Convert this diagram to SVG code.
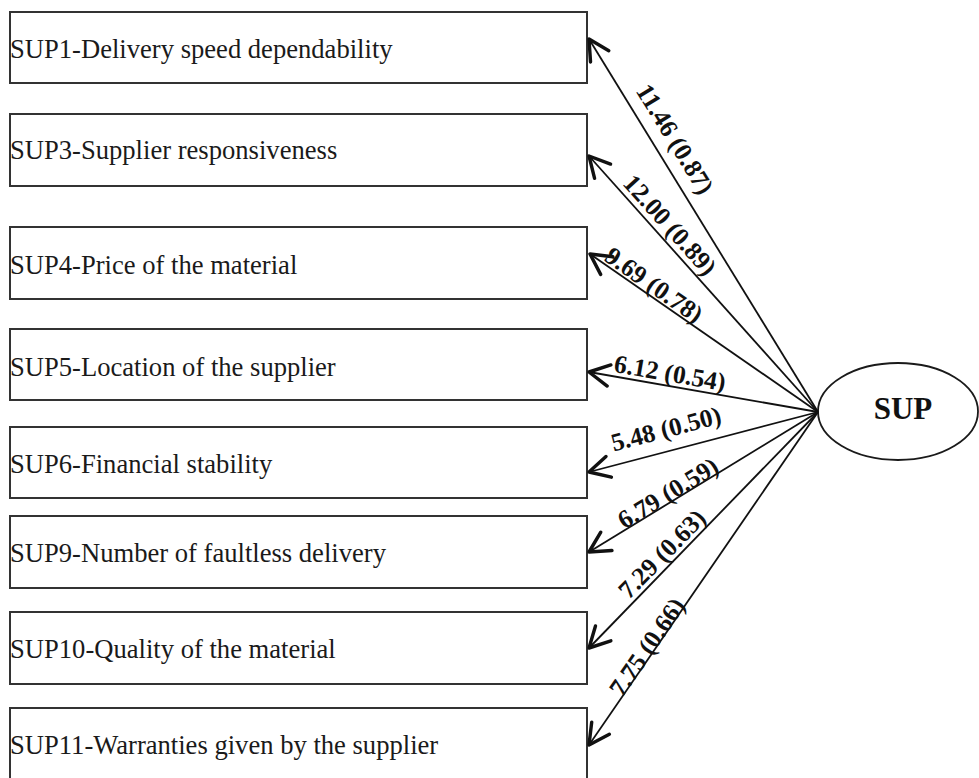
<svg xmlns="http://www.w3.org/2000/svg" width="979" height="778" viewBox="0 0 979 778">
  <style>
    .box rect { fill: #ffffff; stroke: #333333; stroke-width: 2; }
    .box text { font-family: "Liberation Serif", "Times New Roman", serif; font-size: 26.6px; fill: #1a1a1a; }
    .latent ellipse { fill: #ffffff; stroke: #1a1a1a; stroke-width: 1.8; }
    .latent text { font-family: "Liberation Serif", "Times New Roman", serif; font-size: 31px; font-weight: bold; fill: #111111; text-anchor: middle; }
    .edges line { stroke: #111111; stroke-width: 1.8; marker-end: url(#openArrow); }
    .edges text { font-family: "Liberation Serif", "Times New Roman", serif; font-size: 25.5px; font-weight: bold; fill: #111111; text-anchor: middle; dominant-baseline: central; }
  </style>
  <defs>
    <marker id="openArrow" markerUnits="userSpaceOnUse" markerWidth="30" markerHeight="30" viewBox="-24 -14 28 28" refX="0" refY="0" orient="auto">
      <path d="M-19,-10 L0,0 L-19,10" fill="none" stroke="#111111" stroke-width="3.2" stroke-linecap="round" stroke-linejoin="round"/>
    </marker>
  </defs>

  <rect width="979" height="778" fill="#ffffff"/>

  <!-- indicator boxes -->
  <g id="sup1" class="box"><rect x="10" y="12" width="577" height="71"/><text x="10" y="58">SUP1-Delivery speed dependability</text></g>
  <g id="sup3" class="box"><rect x="10" y="114" width="577" height="72"/><text x="10" y="159">SUP3-Supplier responsiveness</text></g>
  <g id="sup4" class="box"><rect x="10" y="227" width="577" height="72"/><text x="10" y="274">SUP4-Price of the material</text></g>
  <g id="sup5" class="box"><rect x="10" y="329" width="577" height="71"/><text x="10" y="376">SUP5-Location of the supplier</text></g>
  <g id="sup6" class="box"><rect x="10" y="427" width="577" height="71"/><text x="10" y="473">SUP6-Financial stability</text></g>
  <g id="sup9" class="box"><rect x="10" y="516" width="577" height="72"/><text x="10" y="562">SUP9-Number of faultless delivery</text></g>
  <g id="sup10" class="box"><rect x="10" y="612" width="577" height="72"/><text x="10" y="658">SUP10-Quality of the material</text></g>
  <g id="sup11" class="box"><rect x="10" y="708" width="577" height="76"/><text x="10" y="754">SUP11-Warranties given by the supplier</text></g>

  <!-- latent factor -->
  <g id="sup" class="latent">
    <ellipse cx="898" cy="411.5" rx="80" ry="48.5"/>
    <text x="903" y="419">SUP</text>
  </g>

  <!-- loadings -->
  <g id="connectors" class="edges">
    <line x1="818" y1="412" x2="589" y2="39"/>
    <line x1="818" y1="412" x2="589" y2="156"/>
    <line x1="818" y1="412" x2="590" y2="254"/>
    <line x1="818" y1="412" x2="589" y2="372"/>
    <line x1="818" y1="412" x2="589" y2="472"/>
    <line x1="818" y1="412" x2="589" y2="552"/>
    <line x1="818" y1="412" x2="589" y2="648"/>
    <line x1="818" y1="412" x2="589" y2="745"/>

    <text transform="translate(675,139) rotate(58.4)">11.46 (0.87)</text>
    <text transform="translate(670,225) rotate(48.1)">12.00 (0.89)</text>
    <text transform="translate(654,285) rotate(34.9)">9.69 (0.78)</text>
    <text transform="translate(670,373) rotate(9.9)">6.12 (0.54)</text>
    <text transform="translate(666,429) rotate(-14.7)">5.48 (0.50)</text>
    <text transform="translate(668,493) rotate(-31.3)">6.79 (0.59)</text>
    <text transform="translate(662,554) rotate(-45.7)">7.29 (0.63)</text>
    <text transform="translate(647,647) rotate(-55.4)">7.75 (0.66)</text>
  </g>
</svg>
